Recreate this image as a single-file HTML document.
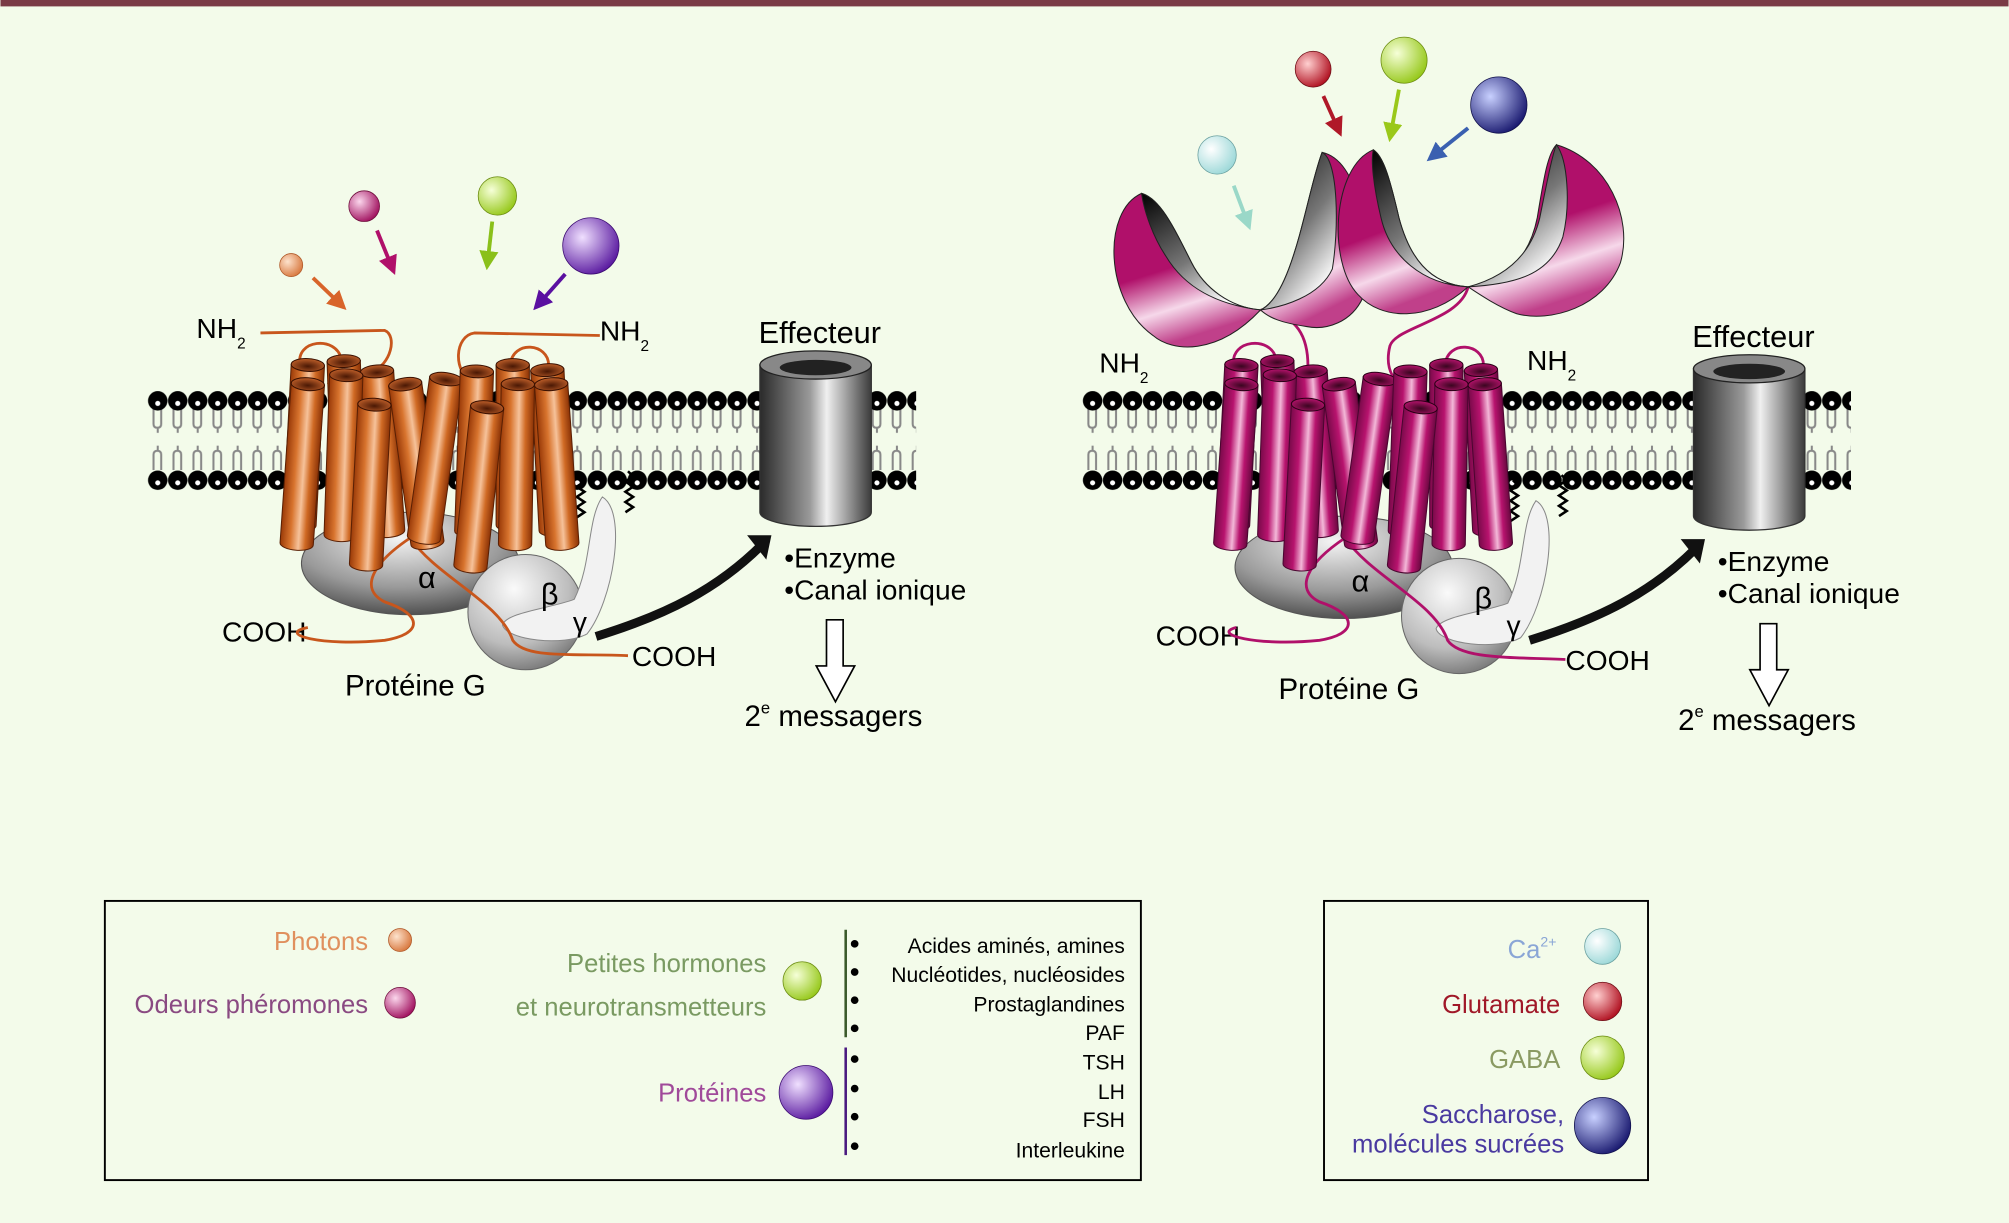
<!DOCTYPE html>
<html><head><meta charset="utf-8"><style>
html,body{margin:0;padding:0;background:#f3fbea;}
svg{display:block;}
text{font-family:"Liberation Sans",sans-serif;}
</style></head><body>
<svg width="2009" height="1223" viewBox="0 0 1568 955" xmlns="http://www.w3.org/2000/svg">
<defs>
<linearGradient id="gO" x1="0" x2="1" y1="0" y2="0">
<stop offset="0" stop-color="#9a3a08"/><stop offset="0.3" stop-color="#d8742e"/><stop offset="0.55" stop-color="#f6c29a"/><stop offset="0.75" stop-color="#d06a24"/><stop offset="1" stop-color="#8a3206"/></linearGradient>
<linearGradient id="gM" x1="0" x2="1" y1="0" y2="0">
<stop offset="0" stop-color="#7a0a4a"/><stop offset="0.3" stop-color="#b8136e"/><stop offset="0.55" stop-color="#f3b8d8"/><stop offset="0.75" stop-color="#b8136e"/><stop offset="1" stop-color="#6a0840"/></linearGradient>
<radialGradient id="topO" cx="0.5" cy="0.6" r="0.6"><stop offset="0" stop-color="#4a1804"/><stop offset="1" stop-color="#c0602a"/></radialGradient>
<radialGradient id="topM" cx="0.5" cy="0.6" r="0.6"><stop offset="0" stop-color="#3a0620"/><stop offset="1" stop-color="#b8136e"/></radialGradient>
<linearGradient id="gGray" x1="0" x2="1"><stop offset="0" stop-color="#2a2a2a"/><stop offset="0.45" stop-color="#9a9a9a"/><stop offset="0.6" stop-color="#f0f0f0"/><stop offset="1" stop-color="#3a3a3a"/></linearGradient>
<radialGradient id="gAlpha" cx="0.45" cy="0.25" r="0.8"><stop offset="0" stop-color="#f4f4f4"/><stop offset="0.6" stop-color="#9a9a9a"/><stop offset="1" stop-color="#444"/></radialGradient>
<radialGradient id="gBeta" cx="0.4" cy="0.3" r="0.8"><stop offset="0" stop-color="#fafafa"/><stop offset="0.6" stop-color="#bdbdbd"/><stop offset="1" stop-color="#666"/></radialGradient>
<linearGradient id="gCup" x1="0" y1="0" x2="0.3" y2="1"><stop offset="0" stop-color="#b0106a"/><stop offset="0.55" stop-color="#b0106a"/><stop offset="0.8" stop-color="#f6d8ea"/><stop offset="1" stop-color="#c0408a"/></linearGradient>
<linearGradient id="gIn" x1="0" y1="0" x2="0.6" y2="1"><stop offset="0" stop-color="#000"/><stop offset="0.6" stop-color="#777"/><stop offset="1" stop-color="#fff"/></linearGradient>
<radialGradient id="bO" cx="0.35" cy="0.35" r="0.7"><stop offset="0" stop-color="#fde2cc"/><stop offset="1" stop-color="#d8783e"/></radialGradient>
<radialGradient id="bM" cx="0.35" cy="0.35" r="0.7"><stop offset="0" stop-color="#fbd6ec"/><stop offset="1" stop-color="#a0105e"/></radialGradient>
<radialGradient id="bG" cx="0.35" cy="0.35" r="0.7"><stop offset="0" stop-color="#f6ffd8"/><stop offset="1" stop-color="#96c81a"/></radialGradient>
<radialGradient id="bP" cx="0.35" cy="0.35" r="0.7"><stop offset="0" stop-color="#f0e0ff"/><stop offset="1" stop-color="#5a1aa0"/></radialGradient>
<radialGradient id="bC" cx="0.35" cy="0.35" r="0.7"><stop offset="0" stop-color="#ffffff"/><stop offset="1" stop-color="#9cd8d8"/></radialGradient>
<radialGradient id="bR" cx="0.35" cy="0.35" r="0.7"><stop offset="0" stop-color="#ffd0d0"/><stop offset="1" stop-color="#b01020"/></radialGradient>
<radialGradient id="bN" cx="0.35" cy="0.35" r="0.7"><stop offset="0" stop-color="#c8d0ff"/><stop offset="1" stop-color="#1a1a70"/></radialGradient>
<pattern id="lip" x="115" y="305" width="15.6" height="80" patternUnits="userSpaceOnUse">
<path d="M4.5 14 v12 q0 3 3 3 q3 0 3 -3 v-12 M4.5 62 v-12 q0 -3 3 -3 q3 0 3 3 v12 M7.8 29 v4 M7.8 47 v-4" stroke="#888" stroke-width="1.6" fill="none"/>
<circle cx="7.8" cy="8" r="7.6" fill="#000"/><circle cx="7.8" cy="10" r="2" fill="#fff"/>
<circle cx="7.8" cy="70" r="7.6" fill="#000"/><circle cx="7.8" cy="72" r="2" fill="#fff"/>
</pattern>
<pattern id="lip2" x="845" y="305" width="15.6" height="80" patternUnits="userSpaceOnUse">
<path d="M4.5 14 v12 q0 3 3 3 q3 0 3 -3 v-12 M4.5 62 v-12 q0 -3 3 -3 q3 0 3 3 v12 M7.8 29 v4 M7.8 47 v-4" stroke="#888" stroke-width="1.6" fill="none"/>
<circle cx="7.8" cy="8" r="7.6" fill="#000"/><circle cx="7.8" cy="10" r="2" fill="#fff"/>
<circle cx="7.8" cy="70" r="7.6" fill="#000"/><circle cx="7.8" cy="72" r="2" fill="#fff"/>
</pattern>
<g id="cO"><path d="M-13 0 L13 0 L13 125 A13 5 0 0 1 -13 125 Z" fill="url(#gO)" stroke="#5a2004" stroke-width="0.8"/><ellipse cx="0" cy="0" rx="13" ry="5" fill="url(#topO)" stroke="#3a1000" stroke-width="0.8"/></g>
<g id="cM"><path d="M-13 0 L13 0 L13 125 A13 5 0 0 1 -13 125 Z" fill="url(#gM)" stroke="#4a0630" stroke-width="0.8"/><ellipse cx="0" cy="0" rx="13" ry="5" fill="url(#topM)" stroke="#2a0016" stroke-width="0.8"/></g>
<marker id="ah" viewBox="0 0 10 10" refX="8" refY="5" markerWidth="5" markerHeight="5" orient="auto"><path d="M0 0 L10 5 L0 10 Z" fill="context-stroke"/></marker>
</defs>
<rect x="0" y="0" width="1568" height="955" fill="#f3fbea"/>
<rect x="0" y="0" width="1568" height="5" fill="#7a3b46"/>

<rect x="115" y="305" width="600" height="80" fill="url(#lip)"/>
<rect x="845" y="305" width="600" height="80" fill="url(#lip2)"/>

<g id="asm">
<ellipse cx="320" cy="440" rx="85" ry="40" fill="url(#gAlpha)" stroke="#555" stroke-width="0.8"/>
<circle cx="410" cy="478" r="45" fill="url(#gBeta)" stroke="#666" stroke-width="0.8"/>
<path d="M470 388 C490 400 478 470 458 495 C440 505 395 500 392 488 C395 478 430 475 448 468 C462 440 458 405 470 388 Z" fill="#f2f2f2" stroke="#888" stroke-width="0.8"/>
<path d="M452 372 l4 4 -6 4 6 4 -6 4 6 4 -6 4 6 4 -6 4 -4 4 M490 368 l4 4 -6 4 6 4 -6 4 6 4 -6 4 6 4 -6 4" stroke="#000" stroke-width="2" fill="none"/>
<path d="M465 497 C520 480 560 460 595 425" stroke="#111" stroke-width="7" fill="none"/>
<path d="M583 418 L602 418 L598 437 Z" fill="#111"/>
<path d="M593 285 L680 285 L680 400 A43.5 11 0 0 1 593 400 Z" fill="url(#gGray)" stroke="#333"/>
<ellipse cx="636.5" cy="285" rx="43.5" ry="11" fill="#888" stroke="#222"/>
<ellipse cx="636.5" cy="287" rx="28" ry="6" fill="#222"/>
<path d="M645 484 h13 v36 h9 l-15 28 -15 -28 h8 z" fill="#fff" stroke="#000" stroke-width="1.3"/>
<text x="326" y="459" font-size="24">α</text>
<text x="422" y="472" font-size="24">β</text>
<text x="447" y="493" font-size="22">γ</text>
<text x="269" y="543" font-size="23">Protéine G</text>
<text x="173" y="501" font-size="22">COOH</text>
<text x="493" y="520" font-size="22">COOH</text>
<text x="592" y="268" font-size="24">Effecteur</text>
<text x="612" y="443" font-size="22">•Enzyme</text>
<text x="612" y="468" font-size="22">•Canal ionique</text>
<text x="581" y="567" font-size="23">2<tspan font-size="13" dy="-10">e</tspan><tspan dy="10"> messagers</tspan></text>
</g>
<use href="#asm" transform="translate(729,3)"/>

<g fill="none" stroke="#c8561c" stroke-width="2.2">
<path d="M203 260 L300 258 C310 262 305 285 290 290"/>
<path d="M234 285 C230 265 262 262 266 280"/>
<path d="M256 300 C262 285 285 288 290 295"/>
<path d="M468 262 L370 260 C355 262 352 290 370 300"/>
<path d="M398 285 C400 265 428 268 428 285"/>
<path d="M240 490 C215 495 250 505 300 500 C330 495 330 480 300 470 C280 460 290 440 320 420"/>
<path d="M320 420 C340 450 390 470 400 500 C410 515 450 510 490 512"/>
</g>
<g>
<use href="#cO" transform="translate(240,285) rotate(3)"/>
<use href="#cO" transform="translate(268,282) rotate(-2)"/>
<use href="#cO" transform="translate(294,290) rotate(-4)"/>
<use href="#cO" transform="translate(316,300) rotate(-8)"/>
<use href="#cO" transform="translate(240,300) rotate(4)"/>
<use href="#cO" transform="translate(270,293) rotate(2)"/>
<use href="#cO" transform="translate(292,316) rotate(3)"/>
<use href="#cO" transform="translate(400,285) rotate(0)"/>
<use href="#cO" transform="translate(427,289) rotate(-3)"/>
<use href="#cO" transform="translate(348,296) rotate(8)"/>
<use href="#cO" transform="translate(372,290) rotate(2)"/>
<use href="#cO" transform="translate(404,300) rotate(1)"/>
<use href="#cO" transform="translate(430,300) rotate(-4)"/>
<use href="#cO" transform="translate(380,318) rotate(6)"/>
</g>

<g fill="none" stroke="#b0106a" stroke-width="2.2">
<path d="M984 242 C1010 245 1025 260 1020 300"/>
<path d="M1146 224 C1140 250 1090 255 1085 270 C1080 290 1090 300 1100 305"/>
<path d="M963 285 C960 265 992 262 996 280"/>
<path d="M1128 285 C1130 265 1158 268 1158 285"/>
<path d="M965 490 C945 495 980 505 1030 500 C1060 495 1060 480 1030 470 C1010 460 1020 440 1050 420"/>
<path d="M1050 420 C1070 450 1120 470 1130 500 C1140 515 1180 513 1222 515"/>
</g>
<g>
<use href="#cM" transform="translate(969,285) rotate(3)"/>
<use href="#cM" transform="translate(997,282) rotate(-2)"/>
<use href="#cM" transform="translate(1023,290) rotate(-4)"/>
<use href="#cM" transform="translate(1045,300) rotate(-8)"/>
<use href="#cM" transform="translate(969,300) rotate(4)"/>
<use href="#cM" transform="translate(999,293) rotate(2)"/>
<use href="#cM" transform="translate(1021,316) rotate(3)"/>
<use href="#cM" transform="translate(1129,285) rotate(0)"/>
<use href="#cM" transform="translate(1156,289) rotate(-3)"/>
<use href="#cM" transform="translate(1077,296) rotate(8)"/>
<use href="#cM" transform="translate(1101,290) rotate(2)"/>
<use href="#cM" transform="translate(1133,300) rotate(1)"/>
<use href="#cM" transform="translate(1159,300) rotate(-4)"/>
<use href="#cM" transform="translate(1109,318) rotate(6)"/>
</g>

<g stroke="#222" stroke-width="0.8">
<path d="M1032 119 C1060 125 1070 180 1064 232 C1055 252 1035 258 1020 255 C1000 252 990 248 984 242 C1010 230 1020 150 1032 119 Z" fill="url(#gCup)"/>
<path d="M1032 119 C1045 125 1045 180 1040 210 C1030 232 1000 240 984 242 C1010 230 1020 150 1032 119 Z" fill="url(#gIn)"/>
<path d="M891 151 C860 165 862 235 900 262 C915 275 950 278 984 242 C960 240 940 225 930 205 C915 175 905 155 891 151 Z" fill="url(#gCup)"/>
<path d="M891 151 C905 155 915 175 930 205 C940 225 960 240 984 242 C950 238 925 225 910 200 C900 185 893 165 891 151 Z" fill="url(#gIn)"/>
<path d="M1072 117 C1040 130 1036 205 1060 230 C1078 250 1115 252 1146 224 C1115 222 1100 200 1092 170 C1085 140 1080 122 1072 117 Z" fill="url(#gCup)"/>
<path d="M1072 117 C1080 122 1085 140 1092 170 C1100 200 1115 222 1146 224 C1110 222 1085 200 1078 170 C1072 145 1070 125 1072 117 Z" fill="url(#gIn)"/>
<path d="M1215 113 C1255 125 1275 170 1265 205 C1252 240 1210 252 1184 245 C1170 240 1155 230 1146 224 C1180 220 1195 195 1200 170 C1205 140 1208 120 1215 113 Z" fill="url(#gCup)"/>
<path d="M1215 113 C1224 125 1226 160 1220 185 C1210 215 1182 222 1146 224 C1180 215 1196 195 1202 170 C1208 140 1212 120 1215 113 Z" fill="url(#gIn)"/>
</g>

<text x="153" y="264" font-size="22">NH<tspan font-size="12" dy="8">2</tspan></text>
<text x="468" y="266" font-size="22">NH<tspan font-size="12" dy="8">2</tspan></text>
<text x="858" y="291" font-size="22">NH<tspan font-size="12" dy="8">2</tspan></text>
<text x="1192" y="289" font-size="22">NH<tspan font-size="12" dy="8">2</tspan></text>

<circle cx="227" cy="207" r="9" fill="url(#bO)" stroke="#b05a2a" stroke-width="0.6"/>
<circle cx="284" cy="161" r="12" fill="url(#bM)" stroke="#70103e" stroke-width="0.6"/>
<circle cx="388" cy="153" r="15" fill="url(#bG)" stroke="#6a8a10" stroke-width="0.6"/>
<circle cx="461" cy="192" r="22" fill="url(#bP)" stroke="#3a0a70" stroke-width="0.6"/>
<g stroke-width="3" fill="none" marker-end="url(#ah)">
<path d="M244 217 L268 240" stroke="#d8642a"/>
<path d="M294 180 L307 212" stroke="#b0106a"/>
<path d="M384 173 L380 208" stroke="#8ac01a"/>
<path d="M441 214 L418 240" stroke="#5a10a0"/>
<path d="M963 145 L975 177" stroke="#9ad8c8"/>
<path d="M1033 75 L1046 104" stroke="#b01828"/>
<path d="M1092 70 L1085 108" stroke="#9ac81a"/>
<path d="M1146 100 L1116 124" stroke="#3a60b0"/>
</g>
<circle cx="950" cy="121" r="15" fill="url(#bC)" stroke="#6aa0a0" stroke-width="0.6"/>
<circle cx="1025" cy="54" r="14" fill="url(#bR)" stroke="#701018" stroke-width="0.6"/>
<circle cx="1096" cy="47" r="18" fill="url(#bG)" stroke="#6a8a10" stroke-width="0.6"/>
<circle cx="1170" cy="82" r="22" fill="url(#bN)" stroke="#10104a" stroke-width="0.6"/>

<rect x="81.5" y="703.5" width="809" height="218" fill="none" stroke="#000" stroke-width="1.5"/>
<g font-size="20" text-anchor="end">
<text x="287" y="742" fill="#e0905e">Photons</text>
<text x="287" y="791" fill="#8a4a82">Odeurs phéromones</text>
<text x="598" y="759" fill="#7a9a62">Petites hormones</text>
<text x="598" y="793" fill="#7a9a62">et neurotransmetteurs</text>
<text x="598" y="860" fill="#a04a9a">Protéines</text>
</g>
<circle cx="312" cy="734" r="9" fill="url(#bO)" stroke="#b05a2a" stroke-width="0.6"/>
<circle cx="312" cy="783" r="12" fill="url(#bM)" stroke="#70103e" stroke-width="0.6"/>
<circle cx="626" cy="766" r="15" fill="url(#bG)" stroke="#6a8a10" stroke-width="0.6"/>
<circle cx="629" cy="853" r="21" fill="url(#bP)" stroke="#3a0a70" stroke-width="0.6"/>
<line x1="660" y1="726" x2="660" y2="810" stroke="#3a5a2a" stroke-width="2"/>
<line x1="660" y1="818" x2="660" y2="902" stroke="#4a1a80" stroke-width="2"/>
<g fill="#000"><circle cx="667" cy="737" r="3"/><circle cx="667" cy="759" r="3"/><circle cx="667" cy="781" r="3"/><circle cx="667" cy="803" r="3"/><circle cx="667" cy="827" r="3"/><circle cx="667" cy="850" r="3"/><circle cx="667" cy="872" r="3"/><circle cx="667" cy="895" r="3"/></g>
<g font-size="16.5" text-anchor="end">
<text x="878" y="744">Acides aminés, amines</text>
<text x="878" y="767">Nucléotides, nucléosides</text>
<text x="878" y="790">Prostaglandines</text>
<text x="878" y="812">PAF</text>
<text x="878" y="835">TSH</text>
<text x="878" y="858">LH</text>
<text x="878" y="880">FSH</text>
<text x="878" y="904">Interleukine</text>
</g>

<rect x="1033.5" y="703.5" width="253" height="218" fill="none" stroke="#000" stroke-width="1.5"/>
<g font-size="20" text-anchor="end">
<text x="1215" y="748" fill="#8aa6d6">Ca<tspan font-size="11" dy="-9">2+</tspan></text>
<text x="1218" y="791" fill="#a01828">Glutamate</text>
<text x="1218" y="834" fill="#8a9a62">GABA</text>
<text x="1221" y="877" fill="#4a3aa0">Saccharose,</text>
<text x="1221" y="900" fill="#4a3aa0">molécules sucrées</text>
</g>
<circle cx="1251" cy="739" r="14" fill="url(#bC)" stroke="#6aa0a0" stroke-width="0.6"/>
<circle cx="1251" cy="782" r="15" fill="url(#bR)" stroke="#701018" stroke-width="0.6"/>
<circle cx="1251" cy="826" r="17" fill="url(#bG)" stroke="#6a8a10" stroke-width="0.6"/>
<circle cx="1251" cy="879" r="22" fill="url(#bN)" stroke="#10104a" stroke-width="0.6"/>
</svg>
</body></html>
